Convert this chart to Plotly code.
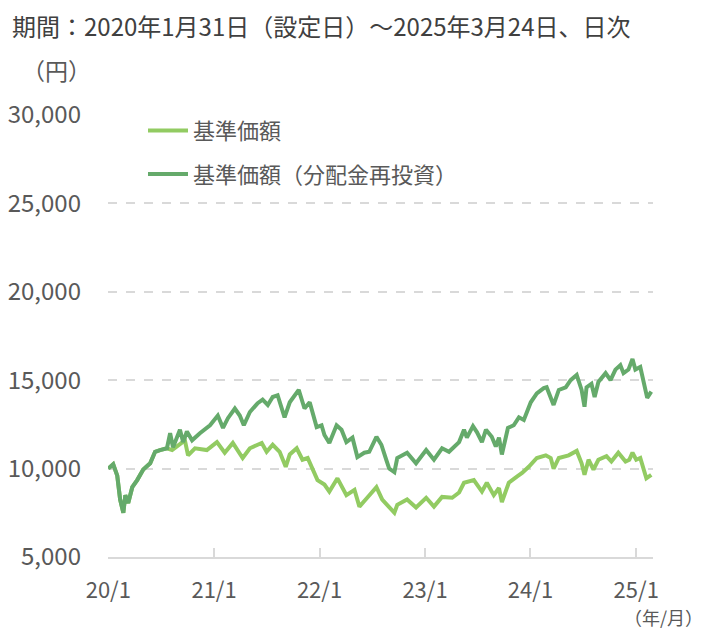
import plotly.graph_objects as go

FONT = "Noto Sans CJK JP"

# 基準価額（分配金再投資）
reinv_dates = [
    "2020-01-31", "2020-02-17", "2020-03-02", "2020-03-12", "2020-03-23", "2020-03-30",
    "2020-04-09", "2020-04-23", "2020-05-10", "2020-05-31", "2020-06-24", "2020-07-11",
    "2020-07-28", "2020-08-21", "2020-09-01", "2020-09-11", "2020-10-05", "2020-10-16",
    "2020-10-29", "2020-11-16", "2020-12-13", "2021-01-17", "2021-02-13", "2021-03-03",
    "2021-03-20", "2021-04-13", "2021-04-30", "2021-05-14", "2021-06-04", "2021-07-01",
    "2021-07-18", "2021-08-05", "2021-08-22", "2021-09-08", "2021-10-02", "2021-10-20",
    "2021-11-20", "2021-12-10", "2021-12-28", "2022-01-21", "2022-02-07", "2022-02-17",
    "2022-03-06", "2022-03-31", "2022-04-17", "2022-05-04", "2022-05-25", "2022-06-11",
    "2022-07-05", "2022-07-22", "2022-08-16", "2022-09-02", "2022-09-19", "2022-09-29",
    "2022-10-17", "2022-10-27", "2022-11-30", "2022-12-31", "2023-02-04", "2023-03-03",
    "2023-03-31", "2023-04-24", "2023-05-29", "2023-06-15", "2023-06-25", "2023-07-16",
    "2023-07-30", "2023-08-16", "2023-08-30", "2023-09-19", "2023-10-03", "2023-10-14",
    "2023-10-24", "2023-11-14", "2023-12-04", "2023-12-22", "2024-01-08", "2024-02-01",
    "2024-02-22", "2024-03-17", "2024-03-27", "2024-04-20", "2024-05-08", "2024-06-01",
    "2024-06-18", "2024-07-09", "2024-07-26", "2024-08-05", "2024-08-12", "2024-08-29",
    "2024-09-09", "2024-09-22", "2024-10-17", "2024-11-03", "2024-11-20", "2024-12-07",
    "2024-12-18", "2025-01-04", "2025-01-18", "2025-01-28", "2025-02-14", "2025-02-25",
    "2025-03-10", "2025-03-24",
]
reinv_values = [
    10000, 10250, 9600, 8250, 7500, 8500,
    8050, 8950, 9350, 9950, 10300, 10950,
    11050, 11150, 12000, 11200, 12200, 11500,
    12100, 11600, 12000, 12450, 13000, 12300,
    12850, 13400, 13000, 12450, 13200, 13700,
    13900, 13600, 14050, 14150, 12900, 13750,
    14450, 13400, 13750, 12350, 12450, 11900,
    11450, 12450, 12200, 11500, 11750, 10650,
    10900, 10950, 11800, 11350, 10500, 10000,
    9800, 10600, 10900, 10300, 11050, 10500,
    11150, 10950, 11500, 12200, 11750, 12400,
    12050, 11500, 12200, 11800, 11250, 11750,
    10800, 12300, 12450, 12900, 12750, 13750,
    14250, 14550, 14600, 13600, 14450, 14600,
    15000, 15300, 14450, 13500, 14600, 14800,
    14050, 14900, 15400, 15000, 15600, 15850,
    15400, 15600, 16200, 15600, 15750, 14900,
    14000, 14350,
]

# 基準価額
nav_dates = [
    "2020-01-31", "2020-02-17", "2020-03-02", "2020-03-12", "2020-03-23", "2020-03-30",
    "2020-04-09", "2020-04-23", "2020-05-10", "2020-05-31", "2020-06-24", "2020-07-11",
    "2020-07-28", "2020-08-21", "2020-09-08", "2020-10-05", "2020-10-22", "2020-11-02",
    "2020-11-26", "2021-01-06", "2021-02-10", "2021-03-09", "2021-04-06", "2021-05-10",
    "2021-06-04", "2021-07-15", "2021-08-01", "2021-08-22", "2021-09-15", "2021-10-06",
    "2021-10-20", "2021-11-13", "2021-12-03", "2021-12-21", "2022-01-07", "2022-01-24",
    "2022-02-17", "2022-03-06", "2022-04-03", "2022-05-04", "2022-06-01", "2022-06-18",
    "2022-07-15", "2022-08-16", "2022-09-05", "2022-09-29", "2022-10-17", "2022-10-27",
    "2022-11-30", "2022-12-31", "2023-02-04", "2023-03-03", "2023-03-31", "2023-05-05",
    "2023-05-29", "2023-06-15", "2023-07-19", "2023-08-16", "2023-09-02", "2023-09-26",
    "2023-10-14", "2023-10-24", "2023-11-17", "2023-12-15", "2024-01-02", "2024-01-25",
    "2024-02-22", "2024-03-24", "2024-04-10", "2024-04-20", "2024-05-08", "2024-06-11",
    "2024-07-09", "2024-07-26", "2024-08-05", "2024-08-19", "2024-09-05", "2024-09-22",
    "2024-10-20", "2024-11-06", "2024-11-30", "2024-12-25", "2025-01-07", "2025-01-18",
    "2025-01-31", "2025-02-14", "2025-02-25", "2025-03-07", "2025-03-24",
]
nav_values = [
    10000, 10250, 9600, 8250, 7500, 8500,
    8050, 8950, 9350, 9950, 10300, 10950,
    11050, 11150, 11050, 11350, 11600, 10750,
    11150, 11050, 11500, 10900, 11450, 10600,
    11150, 11450, 10950, 11350, 10950, 10100,
    10800, 11150, 10500, 10600, 9950, 9350,
    9100, 8700, 9450, 8500, 8800, 7850,
    8350, 8950, 8250, 7800, 7500, 7950,
    8250, 7800, 8350, 7850, 8400, 8350,
    8650, 9200, 9350, 8700, 9200, 8500,
    8900, 8100, 9200, 9550, 9750, 10100,
    10600, 10750, 10600, 10000, 10600, 10750,
    11000, 10300, 9650, 10500, 9950, 10500,
    10700, 10400, 10900, 10400, 10500, 10900,
    10500, 10600, 10000, 9450, 9650,
]

y_ticks = [5000, 10000, 15000, 20000, 25000, 30000]
y_tick_text = ["5,000", "10,000", "15,000", "20,000", "25,000", "30,000"]
x_ticks = ["2020-01-31", "2021-01-31", "2022-01-31", "2023-01-31", "2024-01-31", "2025-01-31"]
x_tick_text = ["20/1", "21/1", "22/1", "23/1", "24/1", "25/1"]

LIGHT = "#92CB62"
DARK = "#65AA6B"
TXT = "#595959"

# page body has an 8px default margin, so the figure is 8px smaller
W, H = 699, 621
L, R, T, B = 100, 54, 107, 72
PW, PH = W - L - R, H - T - B

fig = go.Figure()
fig.add_trace(go.Scatter(x=nav_dates, y=nav_values, mode="lines", name="基準価額",
                         line=dict(color=LIGHT, width=4), legendgroup="a"))
fig.add_trace(go.Scatter(x=reinv_dates, y=reinv_values, mode="lines",
                         name="基準価額（分配金再投資）",
                         line=dict(color=DARK, width=4), legendgroup="b"))

fig.update_layout(
    width=W, height=H,
    margin=dict(l=L, r=R, t=T, b=B, autoexpand=False),
    paper_bgcolor="white", plot_bgcolor="white",
    font=dict(family=FONT, color=TXT, size=22),
    showlegend=True,
    legend=dict(x=35 / PW, y=1.012, xanchor="left", yanchor="top",
                font=dict(size=22, color=TXT), bgcolor="rgba(0,0,0,0)",
                tracegroupgap=12, itemwidth=40),
    xaxis=dict(
        type="date", range=["2020-01-30", "2025-03-30"], automargin=False,
        tickvals=x_ticks, ticktext=x_tick_text,
        showgrid=False, showline=True, linecolor="#D9D9D9", linewidth=2,
        ticks="inside", ticklen=9, tickcolor="#D9D9D9", tickwidth=2,
        tickfont=dict(size=22, color=TXT), ticklabelstandoff=13,
        zeroline=False,
    ),
    yaxis=dict(
        range=[5000, 30000], tickvals=y_ticks, ticktext=y_tick_text, automargin=False,
        showgrid=True, gridcolor="#D9D9D9", griddash="dash", gridwidth=2,
        showline=False, zeroline=False, ticks="",
        tickfont=dict(size=24, color=TXT), ticklabelstandoff=26,
    ),
    annotations=[
        dict(text="期間：2020年1月31日（設定日）～2025年3月24日、日次",
             xref="paper", yref="paper", x=(2 - L) / PW, y=1 + (T - 17) / PH,
             xanchor="left", yanchor="middle", showarrow=False,
             font=dict(size=24, color="#404040", family=FONT)),
        dict(text="（円）", xref="paper", yref="paper", x=(12 - L) / PW, y=1 + (T - 62) / PH,
             xanchor="left", yanchor="middle", showarrow=False,
             font=dict(size=23, color=TXT, family=FONT)),
        dict(text="（年/月）", xref="paper", yref="paper", x=1 + (696 - (L + PW)) / PW,
             y=-(609 - (T + PH)) / PH,
             xanchor="right", yanchor="middle", showarrow=False, borderpad=0,
             font=dict(size=18, color=TXT, family=FONT)),
    ],
)

fig.write_html("out.html")
